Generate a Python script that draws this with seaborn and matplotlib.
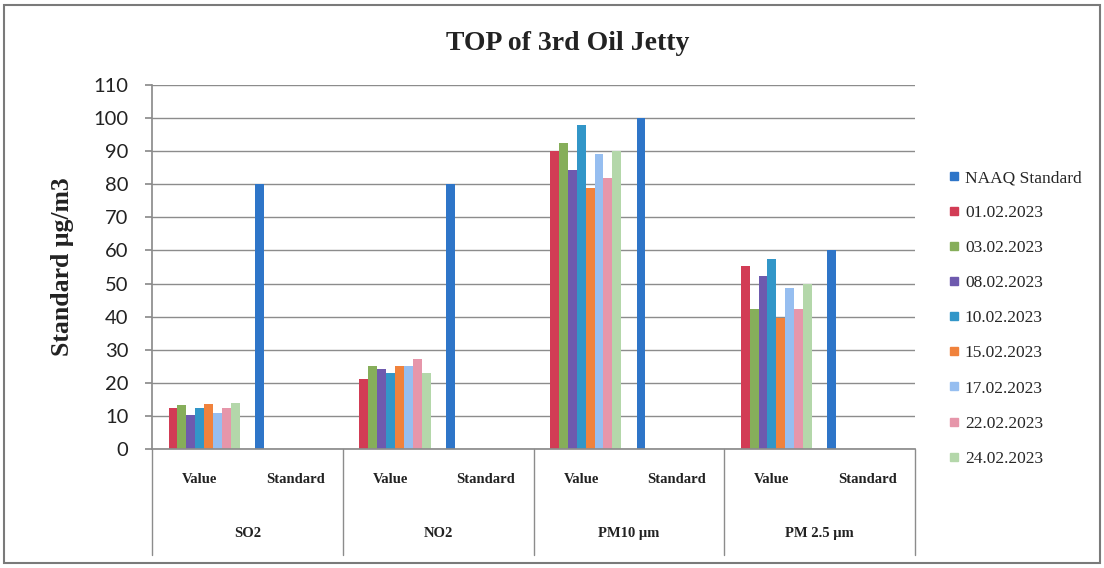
import matplotlib
matplotlib.use("Agg")
import matplotlib.pyplot as plt
from matplotlib.patches import Rectangle
from matplotlib.lines import Line2D
import seaborn as sns
import pandas as pd

# Pollutants and the two columns shown under each
pollutants = ["SO2", "NO2", "PM10 \u00b5m", "PM 2.5 \u00b5m"]
kinds = ["Value", "Standard"]

series = ["NAAQ Standard", "01.02.2023", "03.02.2023", "08.02.2023", "10.02.2023",
          "15.02.2023", "17.02.2023", "22.02.2023", "24.02.2023"]
colors = ["#2E75C8", "#D23C55", "#86AE5A", "#6E5AAE", "#3296C8",
          "#F0823C", "#96BEF0", "#E696AA", "#B4D7AA"]

# NAAQ limits (shown in the "Standard" column)
naaq_standard = [80, 80, 100, 60]

# Monitored concentrations per date (shown in the "Value" column), order: SO2, NO2, PM10, PM2.5
d_0102 = [12.3, 21.2, 90.0, 55.2]
d_0302 = [13.3, 25.2, 92.5, 42.2]
d_0802 = [10.2, 24.3, 84.3, 52.3]
d_1002 = [12.5, 23.0, 98.0, 57.5]
d_1502 = [13.6, 25.2, 78.8, 39.5]
d_1702 = [10.8, 25.0, 89.0, 48.7]
d_2202 = [12.4, 27.3, 81.8, 42.2]
d_2402 = [14.0, 23.0, 90.0, 50.0]
date_values = [d_0102, d_0302, d_0802, d_1002, d_1502, d_1702, d_2202, d_2402]

slots = [f"{p}|{k}" for p in pollutants for k in kinds]
rows = []
for i, p in enumerate(pollutants):
    rows.append({"slot": f"{p}|Standard", "series": series[0], "value": naaq_standard[i]})
    for s, vals in zip(series[1:], date_values):
        rows.append({"slot": f"{p}|Value", "series": s, "value": vals[i]})
df = pd.DataFrame(rows)

sns.set_theme(style="white")
serif = ["Liberation Serif", "DejaVu Serif"]

fig = plt.figure(figsize=(11.04, 5.68), dpi=100)
ax = fig.add_axes([0.1377, 0.2095, 0.6911, 0.6409])

sns.barplot(data=df, x="slot", y="value", hue="series", order=slots,
            hue_order=series, palette=colors, width=0.84, saturation=1,
            dodge=True, errorbar=None, legend=False, linewidth=0, ax=ax)

grid_c = "#8C8C8C"
ax.set_ylim(0, 110)
ax.set_xlim(-0.5, len(slots) - 0.5)
ax.set_yticks(range(0, 111, 10))
ax.yaxis.grid(True, color=grid_c, lw=1.0)
ax.set_axisbelow(True)
for side in ["top", "right"]:
    ax.spines[side].set_visible(False)
ax.spines["left"].set_color(grid_c)
ax.spines["bottom"].set_color(grid_c)
ax.tick_params(axis="y", which="major", left=True, length=5, color=grid_c,
               labelsize=14.5, pad=12, labelcolor="#222222")
for t in ax.get_yticklabels():
    t.set_fontfamily("Lato")
ax.set_xticks([])
ax.set_xlabel("")
ax.set_ylabel("Standard \u03bcg/m3", fontsize=18.5, fontweight="bold",
              family=serif, labelpad=14, color="#222222")

# two-level category labels under the axis
trans = ax.get_xaxis_transform()
for i, s in enumerate(slots):
    ax.text(i, -0.083, s.split("|")[1], transform=trans, ha="center", va="center",
            fontsize=10.5, fontweight="bold", family=serif, color="#222222")
for g, p in enumerate(pollutants):
    ax.text(2 * g + 0.5, -0.232, p, transform=trans, ha="center", va="center",
            fontsize=10.5, fontweight="bold", family=serif, color="#222222")
for b in range(len(pollutants) + 1):
    ax.plot([2 * b - 0.5, 2 * b - 0.5], [0, -0.29], transform=trans,
            color=grid_c, lw=1.0, clip_on=False)

fig.text(0.514, 0.924, "TOP of 3rd Oil Jetty", ha="center", va="center",
         fontsize=20, fontweight="bold", family=serif, color="#222222")

handles = [Line2D([], [], marker="s", ls="none", markersize=6, color=c) for c in colors]
fig.legend(handles, series, loc="upper left", bbox_to_anchor=(0.852, 0.713),
           frameon=False, prop={"family": serif, "size": 12.5},
           handletextpad=0.2, labelspacing=1.09, handlelength=0.8, borderaxespad=0)

fig.patches.append(Rectangle((0.004, 0.008), 0.992, 0.984, transform=fig.transFigure,
                             fill=False, edgecolor="#7A7A7A", lw=1.5))

fig.savefig("out.png", dpi=100, facecolor="white")
